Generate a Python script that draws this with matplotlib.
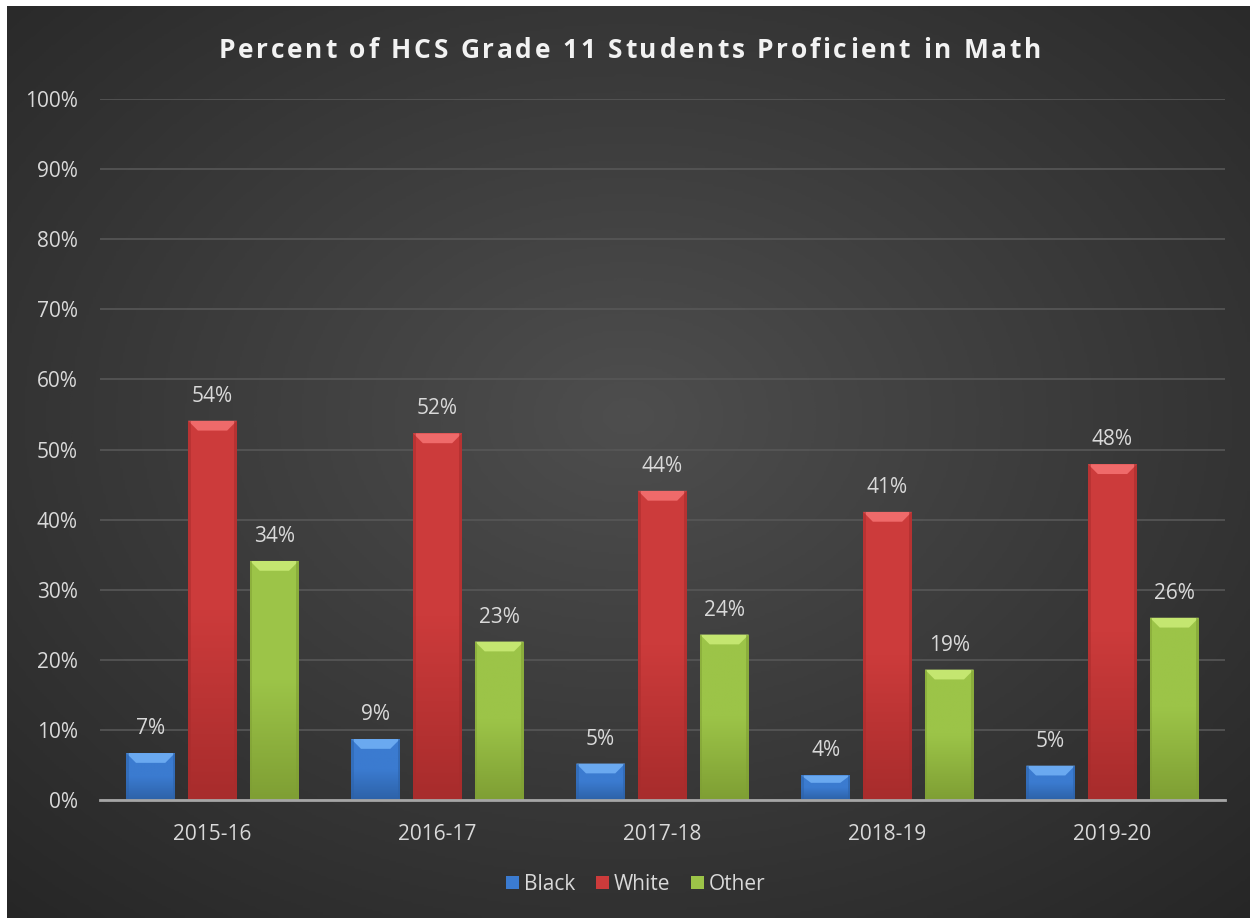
import numpy as np
import matplotlib.pyplot as plt
from matplotlib.patches import Polygon, Rectangle
from matplotlib.colors import LinearSegmentedColormap

plt.rcParams["font.family"] = ["Open Sans", "DejaVu Sans"]

years = ["2015-16", "2016-17", "2017-18", "2018-19", "2019-20"]
groups = ["Black", "White", "Other"]
black = [6.7, 8.7, 5.2, 3.5, 4.9]
white = [54.1, 52.3, 44.1, 41.1, 47.9]
other = [34.1, 22.6, 23.6, 18.6, 26.0]

# base, light, dark tones for each series
palette = {
    "Black": ("#3b7bd0", "#6aa9f0", "#2d62a8"),
    "White": ("#cc3b3b", "#ef6a6a", "#a82c2c"),
    "Other": ("#9cc448", "#c4e670", "#7f9f34"),
}

W, H = 1250, 918
fig = plt.figure(figsize=(W / 100, H / 100), dpi=100)
fig.patch.set_facecolor("white")

# dark radial background
bg = fig.add_axes([7 / W, 0, 1 - 7 / W, 1 - 6 / H])
yy, xx = np.mgrid[0:1:400j, 0:1:540j]
r = np.sqrt(((xx - 0.5) / 0.75) ** 2 + ((yy - 0.45) / 0.75) ** 2)
bgmap = LinearSegmentedColormap.from_list("bg", ["#4e4e4e", "#3a3a3a", "#262626"])
bg.imshow(np.clip(r, 0, 1), cmap=bgmap, vmin=0, vmax=1, aspect="auto",
          extent=[0, 1, 0, 1], interpolation="bilinear")
bg.set_axis_off()

ax = fig.add_axes([100 / W, 1 - 800 / H, 1125 / W, 701 / H])
ax.set_facecolor("none")

x = np.arange(len(years))
width = 0.217
offset = 0.275
series = {"Black": black, "White": white, "Other": other}

grad = np.linspace(1, 0, 64).reshape(-1, 1)
for k, name in enumerate(groups):
    base, light, dark = palette[name]
    bars = ax.bar(x + (k - 1) * offset, series[name], width, color=base,
                  zorder=3, label=name)
    cm = LinearSegmentedColormap.from_list(name, [dark, base, base])
    for b, v in zip(bars, series[name]):
        x0, w, h = b.get_x(), b.get_width(), b.get_height()
        im = ax.imshow(grad, cmap=cm, aspect="auto", extent=[x0, x0 + w, 0, h],
                       zorder=3.5, interpolation="bilinear")
        im.set_clip_path(b)
        # bevel on top
        bh = min(1.4, h * 0.3)
        ix = w * 0.2
        ax.add_patch(Polygon([[x0, h], [x0 + w, h], [x0 + w - ix, h - bh],
                              [x0 + ix, h - bh]], closed=True, color=light,
                             zorder=4, lw=0))
        ax.add_patch(Rectangle((x0, 0), w * 0.05, h, color=dark, lw=0,
                               zorder=4, alpha=0.5))
        ax.add_patch(Rectangle((x0 + w * 0.95, 0), w * 0.05, h, color=dark,
                               lw=0, zorder=4, alpha=0.6))
        ax.text(x0 + w / 2, h + 2.0, f"{round(v)}%", ha="center", va="bottom",
                color="#d9d9d9", fontsize=15, zorder=5)

ax.set_xlim(-0.5, len(years) - 0.5)
ax.set_ylim(0, 100)
ax.set_yticks(np.arange(0, 101, 10))
ax.set_yticklabels([f"{t}%" for t in range(0, 101, 10)])
ax.set_xticks(x)
ax.set_xticklabels(years)
ax.tick_params(axis="both", length=0, colors="#d9d9d9", labelsize=15)
ax.tick_params(axis="y", pad=16)
ax.tick_params(axis="x", pad=17)
ax.grid(axis="y", color="#575757", lw=1.2, zorder=0)
for s in ["top", "right", "left"]:
    ax.spines[s].set_visible(False)
ax.spines["bottom"].set_color("#a6a6a6")
ax.spines["bottom"].set_linewidth(2)
ax.spines["bottom"].set_zorder(5)

# title with widened letter spacing
title = "Percent of HCS Grade 11 Students Proficient in Math"
tkw = dict(color="#f2f2f2", fontsize=19, fontweight="bold", va="center",
           ha="left")
renderer = fig.canvas.get_renderer()
spacing = 2.8  # px
def text_w(s):
    if not s:
        return 0.0
    t = fig.text(0, 0, s, **tkw)
    wpx = t.get_window_extent(renderer).width
    t.remove()
    return wpx
total = text_w(title) + spacing * (len(title) - 1)
start = 630 - total / 2
for i, ch in enumerate(title):
    if ch == " ":
        continue
    px = start + text_w(title[:i]) + spacing * i
    fig.text(px / W, 1 - 50 / H, ch, **tkw)

leg = fig.legend(loc="center", bbox_to_anchor=(636 / W, 1 - 884 / H), ncol=3,
                 frameon=False, fontsize=15, handlelength=0.6, handleheight=0.6,
                 handletextpad=0.25, columnspacing=1.0)
for t in leg.get_texts():
    t.set_color("#d9d9d9")

fig.savefig("out.png", dpi=100, facecolor=fig.get_facecolor())
